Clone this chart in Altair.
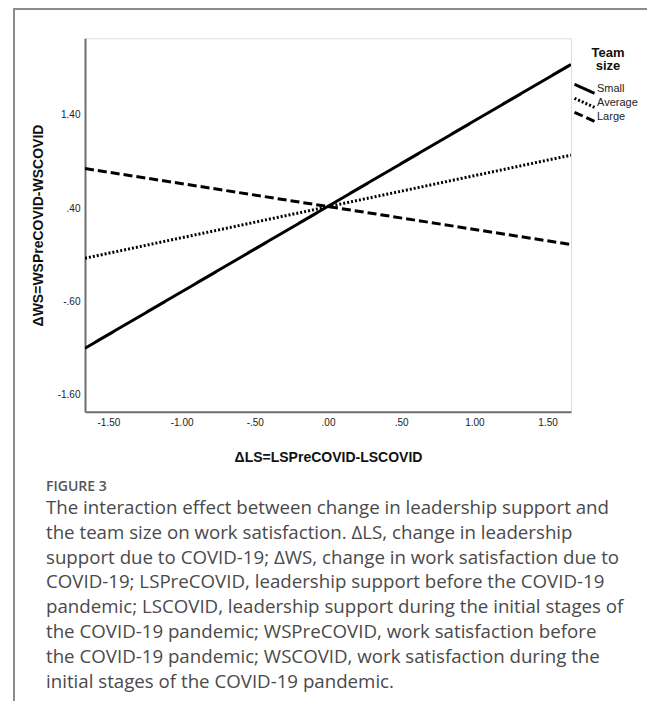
import altair as alt
import pandas as pd

# ---- data ----
groups = ["Small", "Average", "Large"]
x_ends = [-1.66, 1.66]
small_vals = [-1.10, 1.94]
average_vals = [-0.136, 0.968]
large_vals = [0.825, 0.011]
x_ticks = [-1.5, -1.0, -0.5, 0.0, 0.5, 1.0, 1.5]
y_ticks = [1.4, 0.4, -0.6, -1.6]

caption_head = "FIGURE 3"
caption_lines = [
    "The interaction effect between change in leadership support and",
    "the team size on work satisfaction. \u0394LS, change in leadership",
    "support due to COVID-19; \u0394WS, change in work satisfaction due to",
    "COVID-19; LSPreCOVID, leadership support before the COVID-19",
    "pandemic; LSCOVID, leadership support during the initial stages of",
    "the COVID-19 pandemic; WSPreCOVID, work satisfaction before",
    "the COVID-19 pandemic; WSCOVID, work satisfaction during the",
    "initial stages of the COVID-19 pandemic.",
]

rows = []
for g, vals in zip(groups, [small_vals, average_vals, large_vals]):
    for xv, yv in zip(x_ends, vals):
        rows.append({"ls": xv, "ws": yv, "size": g})
df = pd.DataFrame(rows)

label_expr = "(datum.value < 0 ? '-' : '') + replace(format(abs(datum.value), '.2f'), '0.', '.')"

W, H = 486, 373.4
PL, PT, PR, PB = 77, 30.3, 76, 289.3
AX_FONT = "Liberation Sans"
FRAME = "#6e6e6e"

lines = alt.Chart(df).mark_line(color="black", strokeWidth=3, clip=True).encode(
    x=alt.X(
        "ls:Q",
        scale=alt.Scale(domain=[-1.66, 1.66], nice=False, zero=False),
        axis=alt.Axis(
            values=x_ticks, labelExpr=label_expr, title="\u0394LS=LSPreCOVID-LSCOVID",
            ticks=False, grid=False, labelPadding=6, labelFont=AX_FONT, labelFontSize=10,
            labelColor="#222", domainColor=FRAME, domainWidth=2,
            titleFont=AX_FONT, titleFontSize=14, titleFontWeight="bold", titleColor="#111",
            titleX=243, titleY=46.3, titleBaseline="middle", titleAlign="center",
        ),
    ),
    y=alt.Y(
        "ws:Q",
        scale=alt.Scale(domain=[-1.78, 2.22], nice=False, zero=False),
        axis=alt.Axis(
            values=y_ticks, labelExpr=label_expr, title="\u0394WS=WSPreCOVID-WSCOVID",
            ticks=False, grid=False, labelPadding=5, labelFont=AX_FONT, labelFontSize=10,
            labelColor="#222", domainColor=FRAME, domainWidth=2,
            titleFont=AX_FONT, titleFontSize=14, titleFontWeight="bold", titleColor="#111",
            titleX=-47, titleY=186.7, titleBaseline="middle", titleAlign="center", titleAngle=-90,
        ),
    ),
    strokeDash=alt.StrokeDash(
        "size:N",
        scale=alt.Scale(domain=groups, range=[[1, 0], [2, 2], [9, 4]]),
        legend=alt.Legend(
            title=["Team", "size"], orient="none", legendX=493, legendY=8.5,
            symbolType="M-2,-0.9L2,0.9", symbolSize=100, symbolStrokeWidth=3,
            symbolStrokeColor="black", symbolOffset=0,
            labelFont=AX_FONT, labelFontSize=11, labelColor="#222", labelOffset=6,
            titleFont=AX_FONT, titleFontSize=13, titleFontWeight="bold", titleColor="#111",
            titleAlign="center", titleAnchor="middle", titleLineHeight=13.5, titlePadding=9,
            rowPadding=-7, gridAlign="none", padding=0,
        ),
    ),
)

frame_df = pd.DataFrame({"k": [0]})
top_rule = alt.Chart(frame_df).mark_rule(color="#8c8c8c", strokeWidth=2).encode(
    x=alt.value(-71), x2=alt.value(W + PR), y=alt.value(-29.3)
)
left_rule = alt.Chart(frame_df).mark_rule(color="#8c8c8c", strokeWidth=2).encode(
    x=alt.value(-71), y=alt.value(-30.3), y2=alt.value(H + PB)
)

chart = alt.layer(top_rule, left_rule, lines).properties(
    width=W, height=H,
    autosize=alt.AutoSizeParams(type="none"),
    padding={"left": PL, "top": PT, "right": PR, "bottom": PB},
    title=alt.TitleParams(
        text=caption_head, subtitle=caption_lines, orient="bottom", anchor="start",
        frame="group", dx=-39, offset=-222,
        font="Open Sans", fontSize=14, fontWeight=600, color="#555",
        subtitleFont="Open Sans", subtitleFontSize=18.7, subtitleColor="#4a4a4a",
        subtitleLineHeight=24.8, subtitlePadding=5,
    ),
).configure_view(stroke=FRAME, strokeWidth=2).configure(background="white")

chart.save("out.html", embed_options={"renderer": "svg", "actions": False})
